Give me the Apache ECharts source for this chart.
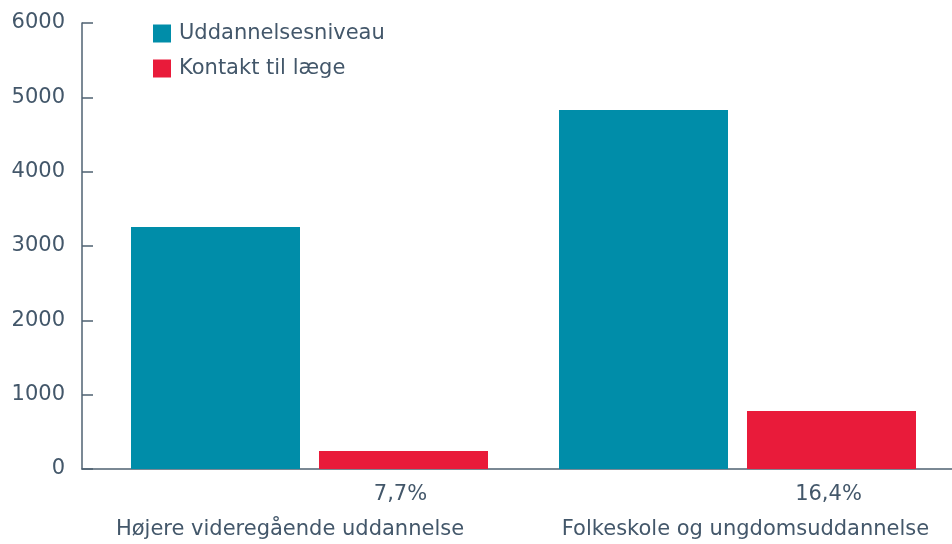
<!DOCTYPE html>
<html>
<head>
<meta charset="utf-8">
<script src="https://cdn.jsdelivr.net/npm/echarts@6/dist/echarts.min.js"></script>
<style>html,body{margin:0;padding:0;background:#fff}#c{width:952px;height:544px}</style>
</head>
<body>
<div id="c"></div>
<script>
const categories = ['Højere videregående uddannelse', 'Folkeskole og ungdomsuddannelse'];
const seriesNames = ['Uddannelsesniveau', 'Kontakt til læge'];
const uddannelsesniveau = [3255, 4830];
const kontaktTilLaege = [242, 780];
const percentLabels = ['7,7%', '16,4%'];
const yTicks = [0, 1000, 2000, 3000, 4000, 5000, 6000];

const FONT = 'DejaVu Sans';
const FS = 21;
const TXT = '#43576a';
const AX = '#4f6272';
const chart = echarts.init(document.getElementById('c'), null, {renderer: 'canvas'});
chart.setOption({
  animation: false,
  textStyle: {fontFamily: FONT},
  legend: {
    orient: 'vertical', left: 153, top: 23, padding: 0,
    itemWidth: 18, itemHeight: 18, itemGap: 14,
    icon: 'rect',
    textStyle: {fontSize: FS, color: TXT, fontFamily: FONT, padding: [0, 0, 0, 3]},
    data: seriesNames
  },
  grid: [
    {left: 82, right: 0, top: 23, bottom: 75},
    {left: 95.5, right: 0.5, top: 23, bottom: 75}
  ],
  yAxis: [
    {type: 'value', gridIndex: 0, min: yTicks[0], max: yTicks[yTicks.length - 1], interval: 1000,
     axisLine: {show: true, lineStyle: {color: AX, width: 1.5}},
     axisTick: {show: true, inside: true, length: 11, lineStyle: {color: AX, width: 1.5}},
     axisLabel: {fontSize: FS, color: TXT, margin: 17, fontFamily: FONT, formatter: v => String(v)},
     splitLine: {show: false}},
    {type: 'value', gridIndex: 1, min: yTicks[0], max: yTicks[yTicks.length - 1], interval: 1000, show: false}
  ],
  xAxis: [
    {type: 'category', gridIndex: 0, data: categories,
     axisLine: {show: true, lineStyle: {color: AX, width: 1.5}},
     axisTick: {show: false}, axisLabel: {show: false}},
    {type: 'category', gridIndex: 1, data: categories,
     axisLine: {show: false}, axisTick: {show: false},
     axisLabel: {
       interval: 0, hideOverlap: false,
       margin: 50, color: TXT, fontSize: FS, fontFamily: FONT,
       formatter: (v, i) => (i === 0 ? '{a|' : '{b|') + v + '}',
       rich: {
         a: {fontSize: FS, color: TXT, fontFamily: FONT, padding: [0, 39, 0, 0]},
         b: {fontSize: FS, color: TXT, fontFamily: FONT, padding: [0, 0, 0, 16]}
       }
     }}
  ],
  series: [
    {name: seriesNames[0], type: 'bar', xAxisIndex: 1, yAxisIndex: 1,
     data: uddannelsesniveau, barWidth: 169, barGap: '11.24%',
     itemStyle: {color: '#008da9'}},
    {name: seriesNames[1], type: 'bar', xAxisIndex: 1, yAxisIndex: 1,
     data: kontaktTilLaege, barWidth: 169, barGap: '11.24%',
     itemStyle: {color: '#e91b3a'},
     label: {show: true, position: 'bottom', distance: 15, offset: [-3, 0],
       formatter: p => percentLabels[p.dataIndex],
       fontSize: FS, color: TXT, fontFamily: FONT}}
  ]
});
</script>
</body>
</html>
